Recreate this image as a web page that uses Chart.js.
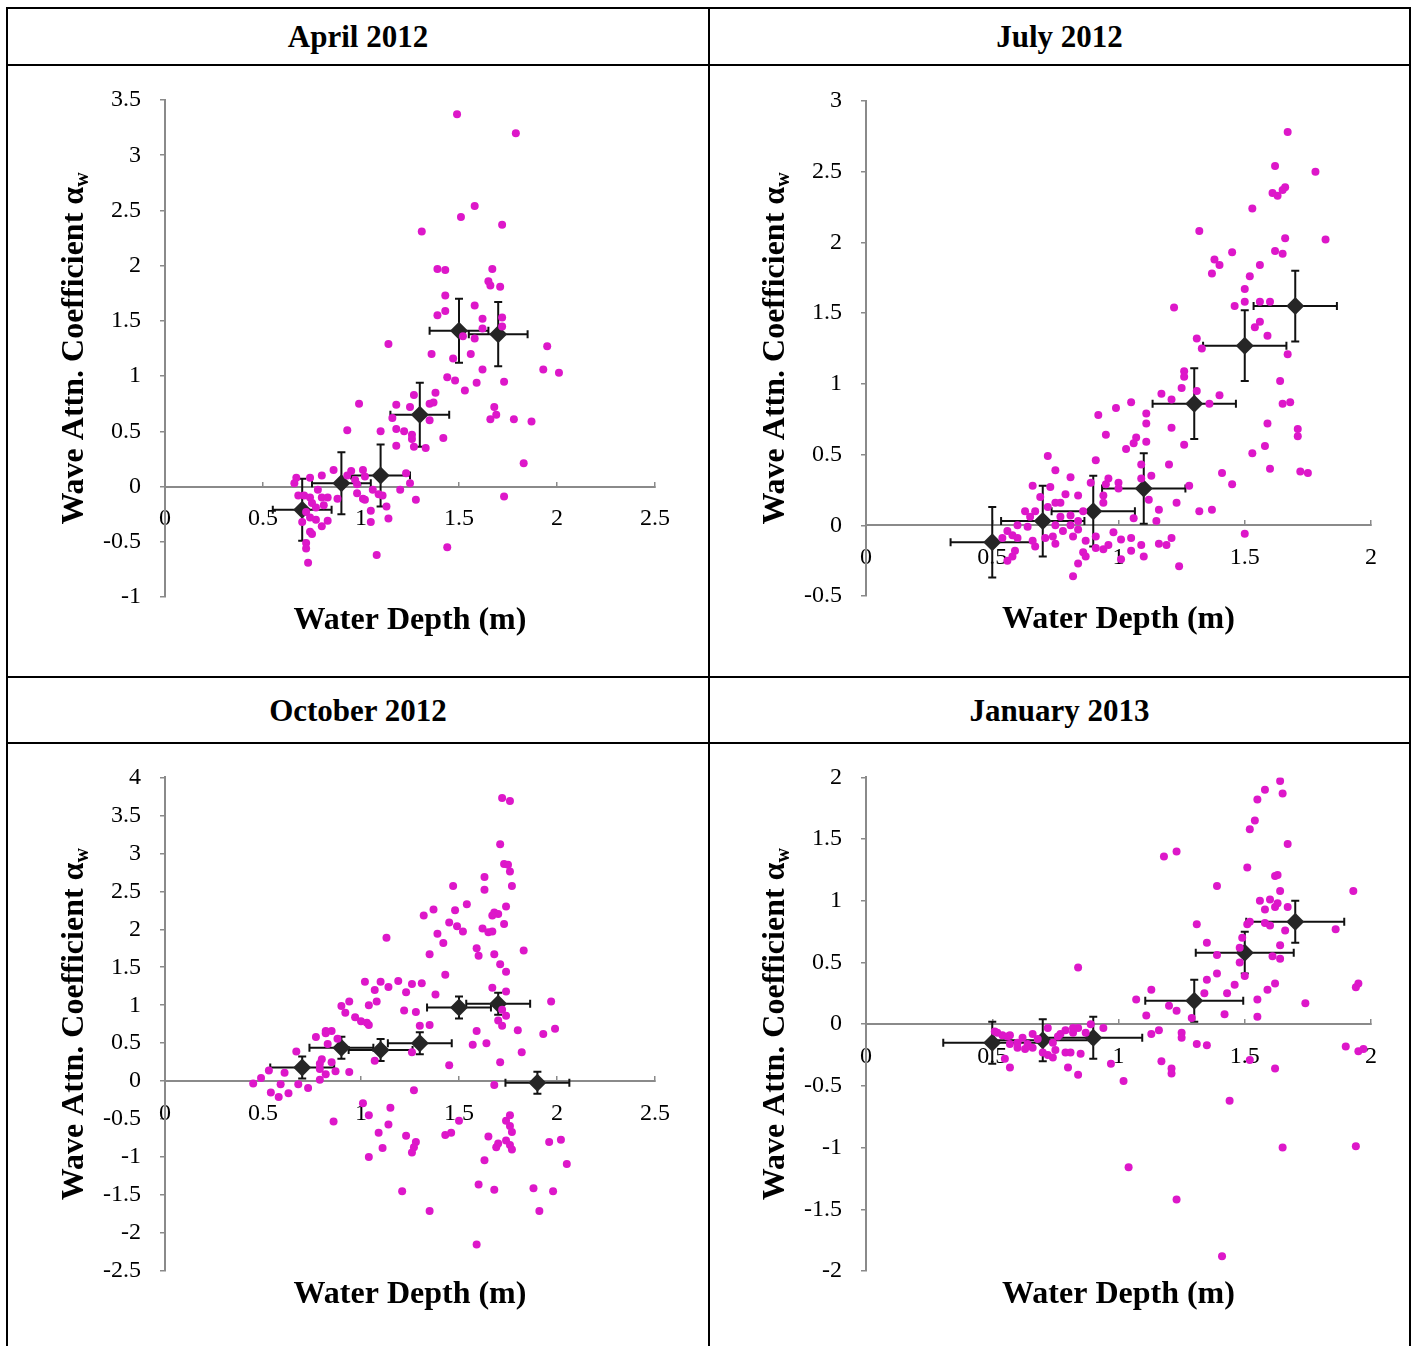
<!DOCTYPE html>
<html>
<head>
<meta charset="utf-8">
<script src="https://cdn.jsdelivr.net/npm/chart.js@4/dist/chart.umd.min.js"></script>
<style>
  body { margin: 0; background: #fff; font-family: "Liberation Serif", serif; }
  #page { position: relative; width: 1417px; height: 1346px; overflow: hidden; }
  .line { position: absolute; background: #000; }
  .head { position: absolute; font: bold 31px "Liberation Serif", serif; text-align: center; }
  .cell { position: absolute; }
</style>
</head>
<body>
<div id="page">
  <div class="line" style="left:6px;top:7px;width:1405px;height:2px"></div>
  <div class="line" style="left:6px;top:64px;width:1405px;height:2px"></div>
  <div class="line" style="left:6px;top:676px;width:1405px;height:2px"></div>
  <div class="line" style="left:6px;top:742px;width:1405px;height:2px"></div>
  <div class="line" style="left:6px;top:7px;width:2px;height:1400px"></div>
  <div class="line" style="left:708px;top:7px;width:2px;height:1400px"></div>
  <div class="line" style="left:1409px;top:7px;width:2px;height:1400px"></div>

  <div class="head" style="left:8px;top:19px;width:700px">April 2012</div>
  <div class="head" style="left:710px;top:19px;width:699px">July 2012</div>
  <div class="head" style="left:8px;top:693px;width:700px">October 2012</div>
  <div class="head" style="left:710px;top:693px;width:699px">January 2013</div>

  <div class="cell" style="left:8px;top:66px;width:700px;height:610px"><canvas id="c1"></canvas></div>
  <div class="cell" style="left:710px;top:66px;width:699px;height:610px"><canvas id="c2"></canvas></div>
  <div class="cell" style="left:8px;top:744px;width:700px;height:602px"><canvas id="c3"></canvas></div>
  <div class="cell" style="left:710px;top:744px;width:699px;height:602px"><canvas id="c4"></canvas></div>
</div>
<script>
// ---- April 2012 ----
const aprX = [1.49,1.79,1.58,1.51,1.72,1.31,1.39,1.43,1.67,1.65,1.66,1.71,1.43,1.58,1.43,1.39,1.72,1.62,1.72,1.62,
  1.52,1.58,1.14,1.95,1.36,1.56,1.47,1.93,2.01,1.62,1.44,1.48,1.59,1.73,1.53,1.38,1.27,0.99,1.35,1.37,
  1.18,1.25,1.68,1.69,1.66,1.78,1.87,1.16,1.35,0.93,1.10,1.18,1.22,1.26,1.26,1.42,1.18,1.27,1.33,1.83,
  0.86,0.95,1.01,0.67,0.66,0.74,0.80,0.93,1.02,0.97,1.23,1.25,1.20,0.98,0.78,0.98,1.06,1.09,1.11,0.68,
  0.71,0.74,0.80,0.83,0.88,1.01,1.02,1.28,0.75,0.81,0.77,1.13,1.05,0.72,0.74,0.77,0.83,0.70,0.80,1.05,
  1.14,0.74,0.75,0.72,0.72,1.44,1.08,0.73,1.73];
const aprY = [3.37,3.20,2.54,2.44,2.37,2.31,1.97,1.96,1.97,1.86,1.82,1.81,1.73,1.64,1.59,1.55,1.53,1.52,1.45,1.43,
  1.36,1.34,1.29,1.27,1.20,1.20,1.16,1.06,1.03,1.06,0.99,0.96,0.94,0.95,0.87,0.85,0.83,0.75,0.75,0.76,
  0.74,0.72,0.72,0.65,0.61,0.61,0.59,0.62,0.60,0.51,0.50,0.52,0.50,0.47,0.43,0.44,0.37,0.36,0.35,0.21,
  0.15,0.14,0.15,0.08,0.03,0.08,0.10,0.10,0.09,0.06,0.12,0.03,-0.03,0.02,-0.03,-0.06,-0.03,-0.07,-0.08,-0.08,
  -0.08,-0.10,-0.10,-0.10,-0.11,-0.11,-0.12,-0.12,-0.15,-0.17,-0.19,-0.18,-0.22,-0.23,-0.28,-0.30,-0.31,-0.32,-0.36,-0.32,
  -0.29,-0.41,-0.43,-0.51,-0.56,-0.55,-0.62,-0.69,-0.09];
const aprMeanX = [0.7, 0.9, 1.1, 1.3, 1.5, 1.7];
const aprMeanY = [-0.21, 0.03, 0.10, 0.65, 1.41, 1.38];
const aprXErr = [0.15, 0.15, 0.15, 0.15, 0.15, 0.15];
const aprYErr = [0.28, 0.28, 0.28, 0.29, 0.29, 0.29];

// ---- July 2012 ----
const julX = [1.67,1.62,1.78,1.66,1.65,1.61,1.63,1.53,1.32,1.66,1.82,1.62,1.65,1.45,1.38,1.40,1.56,1.37,1.52,1.50,
  1.22,1.46,1.50,1.56,1.60,1.56,1.54,1.59,1.31,1.33,1.67,1.64,1.65,1.68,1.59,1.71,1.71,1.58,1.53,1.60,
  1.72,1.75,1.41,1.45,1.32,1.37,1.50,1.26,1.26,1.25,1.17,1.21,1.31,1.40,1.36,1.21,1.26,1.20,1.28,1.23,
  1.16,1.15,1.24,1.21,1.19,1.16,1.10,1.09,1.05,1.05,1.01,1.01,0.98,1.06,1.12,1.13,1.09,1.09,1.11,1.11,
  1.11,1.07,1.06,1.03,1.05,0.99,0.92,0.95,0.91,1.00,1.00,0.96,0.95,0.89,0.94,0.94,0.86,0.84,0.81,0.75,
  0.72,0.73,0.66,0.79,0.69,0.63,0.75,0.77,0.81,0.84,0.84,0.82,0.87,0.91,0.91,0.94,0.96,0.86,0.87,0.84,
  0.82,0.75,0.74,0.71,0.67,0.59,0.56,0.56,0.60,0.58,0.60,0.54,0.64,0.66,0.75,0.78,0.81,0.65,0.77,0.72,
  0.67,0.58];
const julY = [2.78,2.54,2.50,2.39,2.37,2.35,2.33,2.24,2.08,2.03,2.02,1.94,1.92,1.93,1.88,1.84,1.84,1.78,1.76,1.67,
  1.54,1.55,1.58,1.58,1.58,1.44,1.40,1.34,1.32,1.25,1.21,1.02,0.86,0.87,0.72,0.68,0.63,0.56,0.51,0.40,
  0.38,0.37,0.37,0.29,0.10,0.11,-0.06,1.09,1.05,0.97,0.93,0.89,0.95,0.92,0.86,0.69,0.57,0.43,0.28,0.16,
  0.11,0.03,-0.29,-0.09,-0.14,-0.13,-0.22,-0.14,-0.09,-0.18,-0.24,-0.10,-0.05,0.05,0.18,0.35,0.43,0.33,0.59,0.72,
  0.79,0.62,0.58,0.54,0.87,0.83,0.78,0.64,0.46,0.30,0.26,0.33,0.29,0.30,0.21,0.16,0.10,0.21,0.34,0.39,
  0.49,0.27,0.28,0.22,0.20,0.10,0.16,0.16,0.07,0.03,-0.03,-0.08,-0.11,-0.08,-0.16,-0.17,-0.14,-0.19,-0.22,-0.27,
  -0.36,-0.13,-0.08,-0.09,-0.15,-0.18,-0.25,-0.04,0.00,-0.07,-0.09,-0.09,-0.01,-0.11,0.00,-0.04,0.00,0.06,0.06,0.13,
  0.10,-0.22];
const julMeanX = [0.5, 0.7, 0.9, 1.1, 1.3, 1.5, 1.7];
const julMeanY = [-0.12, 0.03, 0.10, 0.26, 0.86, 1.27, 1.55];
const julXErr = [0.165, 0.165, 0.165, 0.165, 0.165, 0.165, 0.165];
const julYErr = [0.25, 0.25, 0.25, 0.25, 0.25, 0.25, 0.25];

// ---- October 2012 ----
const octX = [1.72,1.76,1.71,1.73,1.75,1.76,1.63,1.63,1.77,1.47,1.37,1.32,1.48,1.54,1.74,1.68,1.70,1.67,1.45,1.49,
  1.52,1.73,1.62,1.65,1.67,1.13,1.39,1.42,1.83,1.59,1.60,1.68,1.35,1.71,1.74,1.43,1.02,1.10,1.19,1.26,
  1.31,1.07,1.14,1.23,1.38,1.67,1.74,1.97,0.90,0.94,0.92,1.04,1.08,1.22,1.28,0.97,1.00,1.03,1.04,1.30,
  1.35,1.70,1.72,1.74,1.72,1.80,1.99,1.59,0.85,0.82,1.93,1.57,1.64,1.82,1.71,1.45,1.26,1.07,1.68,1.27,
  0.77,0.82,0.88,0.83,0.85,0.80,0.79,0.79,0.82,0.79,0.87,0.94,0.67,0.53,0.61,0.49,0.45,0.59,0.68,0.73,
  0.54,0.58,0.63,0.86,1.01,1.04,1.15,1.14,1.09,1.11,1.04,1.23,1.28,1.27,1.26,1.21,1.35,1.50,1.43,1.46,
  1.59,1.60,1.63,1.68,1.65,1.69,1.70,1.74,1.76,1.77,1.76,1.77,1.74,1.76,1.96,2.02,2.05,1.88,1.98,1.91];
const octY = [3.73,3.69,3.12,2.86,2.85,2.76,2.69,2.52,2.57,2.57,2.26,2.18,2.25,2.33,2.30,2.22,2.20,2.18,2.09,2.04,
  1.97,2.07,2.01,1.96,1.97,1.89,1.94,1.82,1.72,1.75,1.65,1.67,1.67,1.54,1.44,1.40,1.31,1.31,1.32,1.28,
  1.29,1.20,1.24,1.17,1.14,1.23,1.18,1.05,0.99,1.05,0.90,1.00,1.05,0.93,0.91,0.84,0.79,0.77,0.74,0.73,
  0.74,0.80,0.73,0.86,0.94,0.67,0.69,0.66,0.66,0.66,0.62,0.48,0.50,0.38,0.25,0.21,0.38,0.27,-0.05,-0.12,
  0.58,0.63,0.56,0.49,0.25,0.29,0.23,0.16,0.09,0.02,0.13,0.12,0.39,0.14,0.11,0.04,-0.03,-0.04,-0.04,-0.09,
  -0.15,-0.21,-0.16,-0.53,-0.29,-0.45,-0.35,-0.57,-0.68,-0.88,-1.00,-0.72,-0.80,-0.87,-0.94,-1.45,-1.71,-0.52,-0.71,-0.68,
  -2.15,-1.36,-1.04,-1.43,-0.73,-0.87,-0.82,-0.78,-0.84,-0.90,-0.59,-0.67,-0.52,-0.45,-0.80,-0.77,-1.09,-1.41,-1.45,-1.71];
const octMeanX = [0.7, 0.9, 1.1, 1.3, 1.5, 1.7, 1.9];
const octMeanY = [0.18, 0.44, 0.41, 0.50, 0.97, 1.02, -0.02];
const octXErr = [0.163, 0.163, 0.163, 0.163, 0.163, 0.163, 0.163];
const octYErr = [0.145, 0.145, 0.145, 0.145, 0.145, 0.145, 0.145];

// ---- January 2013 ----
const janX = [1.64,1.58,1.65,1.55,1.54,1.52,1.67,1.18,1.23,1.51,1.62,1.63,1.39,1.64,1.93,1.56,1.60,1.63,1.58,1.62,
  1.67,1.31,1.51,1.52,1.58,1.60,1.86,1.66,1.49,1.35,1.64,1.48,1.39,1.61,1.64,1.48,0.84,1.39,1.50,1.95,
  1.94,1.46,1.62,1.59,1.35,1.13,1.34,1.43,1.07,1.55,1.74,1.20,1.23,1.11,1.42,1.55,1.29,1.13,1.16,1.25,
  1.25,1.31,1.35,1.90,1.95,1.97,1.17,1.21,1.21,1.52,1.62,0.97,1.02,1.44,1.65,1.94,1.04,1.23,1.41,0.94,
  0.89,0.87,0.84,0.82,0.82,0.79,0.77,0.76,0.72,0.74,0.75,0.74,0.72,0.70,0.79,0.81,0.85,0.80,0.84,0.66,
  0.62,0.64,0.63,0.60,0.60,0.57,0.56,0.54,0.52,0.51,0.55,0.57,0.66,0.68,0.57];
const janY = [1.97,1.90,1.87,1.82,1.65,1.58,1.46,1.36,1.40,1.27,1.20,1.21,1.12,1.08,1.08,1.00,1.01,0.98,0.93,0.95,
  0.95,0.81,0.81,0.83,0.82,0.80,0.77,0.76,0.70,0.66,0.64,0.62,0.56,0.55,0.53,0.50,0.46,0.41,0.39,0.33,
  0.30,0.32,0.33,0.28,0.36,0.28,0.25,0.25,0.20,0.20,0.17,0.15,0.11,0.07,0.08,0.06,0.05,-0.08,-0.05,-0.07,
  -0.11,-0.16,-0.17,-0.18,-0.22,-0.20,-0.30,-0.36,-0.40,-0.29,-0.36,-0.32,-0.46,-0.62,-1.00,-0.99,-1.16,-1.42,-1.88,-0.03,
  0.00,-0.07,-0.03,-0.03,-0.07,-0.05,-0.08,-0.10,-0.03,-0.15,-0.21,-0.27,-0.25,-0.23,-0.23,-0.23,-0.24,-0.35,-0.41,-0.08,
  -0.11,-0.16,-0.20,-0.15,-0.19,-0.16,-0.10,-0.09,-0.07,-0.06,-0.28,-0.35,-0.19,-0.12,-0.09];
const janMeanX = [0.5, 0.7, 0.9, 1.3, 1.5, 1.7];
const janMeanY = [-0.15, -0.13, -0.11, 0.19, 0.58, 0.83];
const janXErr = [0.194, 0.194, 0.194, 0.194, 0.194, 0.194];
const janYErr = [0.17, 0.17, 0.17, 0.17, 0.17, 0.17];

const serif = '"Liberation Serif", "Times New Roman", serif';

const errorBars = {
  id: 'errorBars',
  beforeDatasetDraw(chart, args) {
    const ds = chart.data.datasets[args.index];
    if (!ds.xErr) return;
    const { ctx, scales: { x, y } } = chart;
    const cap = 4;
    ctx.save();
    ctx.strokeStyle = '#111';
    ctx.lineWidth = 2;
    ds.data.forEach((p, i) => {
      const px = x.getPixelForValue(p.x), py = y.getPixelForValue(p.y);
      const x0 = x.getPixelForValue(p.x - ds.xErr[i]), x1 = x.getPixelForValue(p.x + ds.xErr[i]);
      const y0 = y.getPixelForValue(p.y - ds.yErr[i]), y1 = y.getPixelForValue(p.y + ds.yErr[i]);
      ctx.beginPath();
      ctx.moveTo(x0, py); ctx.lineTo(x1, py);
      ctx.moveTo(x0, py - cap); ctx.lineTo(x0, py + cap);
      ctx.moveTo(x1, py - cap); ctx.lineTo(x1, py + cap);
      ctx.moveTo(px, y0); ctx.lineTo(px, y1);
      ctx.moveTo(px - cap, y0); ctx.lineTo(px + cap, y0);
      ctx.moveTo(px - cap, y1); ctx.lineTo(px + cap, y1);
      ctx.stroke();
    });
    ctx.restore();
  }
};

const axisTitles = {
  id: 'axisTitles',
  afterDraw(chart) {
    const { ctx, chartArea: a } = chart;
    ctx.save();
    ctx.fillStyle = '#000';
    ctx.font = 'bold 32px ' + serif;
    ctx.textAlign = 'center';
    ctx.textBaseline = 'middle';
    ctx.fillText('Water Depth (m)', (a.left + a.right) / 2, a.bottom + 24);

    const main = 'Wave Attn. Coefficient α';
    const w1 = ctx.measureText(main).width;
    ctx.font = 'bold 20px ' + serif;
    const w2 = ctx.measureText('w').width;
    ctx.translate(a.left - 90, (a.top + a.bottom) / 2);
    ctx.rotate(-Math.PI / 2);
    ctx.textAlign = 'left';
    const start = -(w1 + w2) / 2;
    ctx.font = 'bold 32px ' + serif;
    ctx.fillText(main, start, 0);
    ctx.font = 'bold 20px ' + serif;
    ctx.fillText('w', start + w1, 8);
    ctx.restore();
  }
};

function pts(xs, ys) {
  return xs.map((v, i) => ({ x: v, y: ys[i] }));
}

function makeChart(id, p) {
  new Chart(document.getElementById(id), {
    type: 'scatter',
    data: {
      datasets: [
        {
          data: pts(p.x, p.y),
          pointRadius: 4,
          pointBackgroundColor: '#dd17c9',
          pointBorderWidth: 0
        },
        {
          data: pts(p.mx, p.my),
          xErr: p.xe,
          yErr: p.ye,
          pointStyle: 'rectRot',
          pointRadius: 9,
          pointBackgroundColor: '#262626',
          pointBorderWidth: 0
        }
      ]
    },
    options: {
      responsive: true,
      maintainAspectRatio: false,
      animation: false,
      layout: { padding: p.pad },
      plugins: { legend: { display: false }, tooltip: { enabled: false } },
      scales: {
        x: {
          type: 'linear',
          position: { y: 0 },
          min: 0, max: p.xMax,
          ticks: { stepSize: 0.5, padding: 24, color: '#000', font: { family: serif, size: 24 }, callback: v => String(v), maxRotation: 0 },
          grid: { drawOnChartArea: false, tickLength: -6, color: '#8a8a8a', lineWidth: 1.5 },
          border: { color: '#8a8a8a', width: 2 }
        },
        y: {
          type: 'linear',
          position: 'left',
          min: p.yMin, max: p.yMax,
          afterFit: s => { s.width = p.yWidth; },
          ticks: { stepSize: 0.5, padding: 19, color: '#000', font: { family: serif, size: 24 }, callback: v => String(v) },
          grid: { drawOnChartArea: false, tickLength: 5, color: '#8a8a8a', lineWidth: 1.5 },
          border: { color: '#8a8a8a', width: 2 }
        }
      }
    },
    plugins: [errorBars, axisTitles]
  });
}

makeChart('c1', { x: aprX, y: aprY, mx: aprMeanX, my: aprMeanY, xe: aprXErr, ye: aprYErr,
  xMax: 2.5, yMin: -1, yMax: 3.5, yWidth: 157, pad: { top: 34, right: 53, bottom: 79, left: 0 } });
makeChart('c2', { x: julX, y: julY, mx: julMeanX, my: julMeanY, xe: julXErr, ye: julYErr,
  xMax: 2, yMin: -0.5, yMax: 3, yWidth: 156, pad: { top: 35, right: 38, bottom: 80, left: 0 } });
makeChart('c3', { x: octX, y: octY, mx: octMeanX, my: octMeanY, xe: octXErr, ye: octYErr,
  xMax: 2.5, yMin: -2.5, yMax: 4, yWidth: 157, pad: { top: 32, right: 53, bottom: 75, left: 0 } });
makeChart('c4', { x: janX, y: janY, mx: janMeanX, my: janMeanY, xe: janXErr, ye: janYErr,
  xMax: 2, yMin: -2, yMax: 2, yWidth: 156, pad: { top: 32, right: 38, bottom: 75, left: 0 } });
</script>
</body>
</html>
